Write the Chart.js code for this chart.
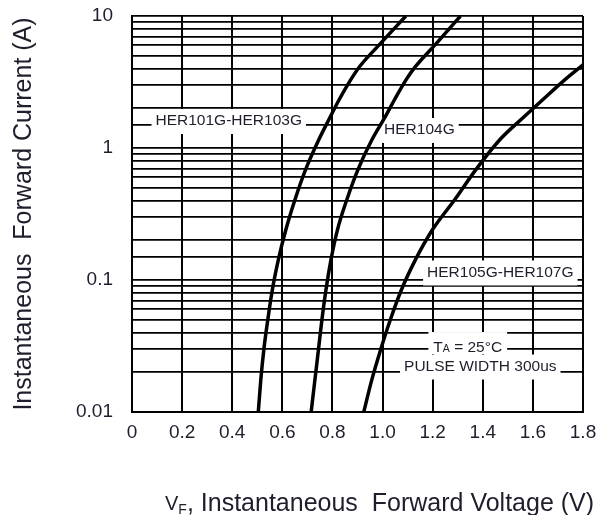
<!DOCTYPE html>
<html><head><meta charset="utf-8">
<script src="https://cdn.jsdelivr.net/npm/chart.js@4.4.1/dist/chart.umd.min.js"></script>
<style>html,body{margin:0;padding:0;background:#fff}#wrap{width:614px;height:515px}</style>
</head><body><div id="wrap"><canvas id="c" width="614" height="515"></canvas></div>
<script>
// ---- data ----
const xTickValues = [0, 0.2, 0.4, 0.6, 0.8, 1.0, 1.2, 1.4, 1.6, 1.8];
const xTickLabels = ['0', '0.2', '0.4', '0.6', '0.8', '1.0', '1.2', '1.4', '1.6', '1.8'];
const yMajorTicks = [0.01, 0.1, 1, 10];
const yTickLabels = ['0.01', '0.1', '1', '10'];

const seriesNames = ['HER101G-HER103G', 'HER104G', 'HER105G-HER107G'];
const her101V = [0.504, 0.514, 0.526, 0.542, 0.560, 0.584, 0.614, 0.650, 0.692, 0.745, 0.792, 0.826, 0.872, 0.908, 0.992, 1.093];
const her101I = [0.01, 0.0175, 0.0295, 0.05, 0.084, 0.142, 0.24, 0.404, 0.68, 1.15, 1.73, 2.31, 3.27, 4.13, 6.2, 10];
const her104V = [0.715, 0.730, 0.744, 0.758, 0.774, 0.794, 0.820, 0.857, 0.901, 0.957, 1.011, 1.047, 1.093, 1.131, 1.215, 1.311];
const her104I = [0.01, 0.0175, 0.0295, 0.05, 0.084, 0.142, 0.24, 0.404, 0.68, 1.15, 1.73, 2.31, 3.27, 4.13, 6.2, 10];
const her105V = [0.925, 0.957, 0.992, 1.031, 1.075, 1.131, 1.199, 1.287, 1.371, 1.467, 1.566, 1.638, 1.726, 1.800];
const her105I = [0.01, 0.0175, 0.0295, 0.05, 0.084, 0.142, 0.24, 0.404, 0.68, 1.15, 1.73, 2.31, 3.27, 4.26];

// label anchors in data units (V, A)
const seriesLabelV = [0.386, 1.147, 1.470];
const seriesLabelI = [1.60, 1.37, 0.114];
const noteTexts = ['PULSE WIDTH 300us'];
const noteV = [1.39];
const noteI = [0.0221];
const tempNote = { main: 'T', sub: 'A', rest: ' = 25°C', v: 1.34, i: 0.0316 };

const yTitle = 'Instantaneous  Forward Current (A)';
const xTitleParts = { v: 'V', sub: 'F', rest: ', Instantaneous  Forward Voltage (V)' };

// ---- build ----
function pts(xs, ys) { return xs.map((x, k) => ({ x: x, y: ys[k] })); }
const FONT = '"Liberation Sans", Arial, sans-serif';
const TXT = '#1e1e2c';

const annotPlugin = {
  id: 'annot',
  beforeDatasetsDraw(chart) {
    const ctx = chart.ctx, xs = chart.scales.x, ys = chart.scales.y;
    ctx.save();
    ctx.textBaseline = 'middle';
    ctx.textAlign = 'left';
    function box(cx, cy, w) {
      ctx.fillStyle = '#fff';
      ctx.fillRect(cx - w / 2 - 4, cy - 12, w + 8, 25);
    }
    ctx.font = '15.5px ' + FONT;
    seriesNames.forEach((t, k) => {
      const cx = xs.getPixelForValue(seriesLabelV[k]);
      const cy = ys.getPixelForValue(seriesLabelI[k]);
      const w = ctx.measureText(t).width;
      box(cx, cy, w);
      ctx.fillStyle = TXT;
      ctx.fillText(t, cx - w / 2, cy);
    });
    noteTexts.forEach((t, k) => {
      const cx = xs.getPixelForValue(noteV[k]);
      const cy = ys.getPixelForValue(noteI[k]);
      const w = ctx.measureText(t).width;
      box(cx, cy, w);
      ctx.fillStyle = TXT;
      ctx.fillText(t, cx - w / 2, cy);
    });
    {
      const cx = xs.getPixelForValue(tempNote.v);
      const cy = ys.getPixelForValue(tempNote.i);
      ctx.font = '15.5px ' + FONT;
      const w1 = ctx.measureText(tempNote.main).width;
      const w3 = ctx.measureText(tempNote.rest).width;
      ctx.font = '10.5px ' + FONT;
      const w2 = ctx.measureText(tempNote.sub).width;
      const w = w1 + w2 + w3;
      ctx.fillStyle = '#fff';
      ctx.fillRect(cx - w / 2 - 5, cy - 14, w + 10, 22);
      ctx.fillStyle = TXT;
      const x0 = cx - w / 2;
      ctx.textBaseline = 'alphabetic';
      const base = cy + 5.5;
      ctx.font = '15.5px ' + FONT;
      ctx.fillText(tempNote.main, x0, base);
      ctx.font = '10.5px ' + FONT;
      ctx.fillText(tempNote.sub, x0 + w1, base);
      ctx.font = '15.5px ' + FONT;
      ctx.fillText(tempNote.rest, x0 + w1 + w2, base);
    }
    ctx.restore();
  },
  afterDraw(chart) {
    const ctx = chart.ctx;
    ctx.save();
    ctx.fillStyle = TXT;
    ctx.textBaseline = 'alphabetic';
    ctx.textAlign = 'left';
    let x = 165;
    const base = 511;
    ctx.font = '20px ' + FONT;
    ctx.fillText(xTitleParts.v, x, base - 1);
    x += ctx.measureText(xTitleParts.v).width;
    ctx.font = '14px ' + FONT;
    ctx.fillText(xTitleParts.sub, x, base + 3);
    x += ctx.measureText(xTitleParts.sub).width;
    ctx.font = '25px ' + FONT;
    ctx.fillText(xTitleParts.rest, x, base);
    ctx.restore();
  }
};

const lineStyle = {
  showLine: true, borderColor: '#000', borderWidth: 3.5, pointRadius: 0,
  cubicInterpolationMode: 'monotone', fill: false
};

new Chart(document.getElementById('c'), {
  type: 'scatter',
  data: {
    datasets: [
      Object.assign({ label: seriesNames[0], data: pts(her101V, her101I) }, lineStyle),
      Object.assign({ label: seriesNames[1], data: pts(her104V, her104I) }, lineStyle),
      Object.assign({ label: seriesNames[2], data: pts(her105V, her105I) }, lineStyle)
    ]
  },
  options: {
    responsive: false,
    animation: false,
    devicePixelRatio: 1,
    layout: { padding: { left: 0, top: 16, right: 31, bottom: 0 } },
    plugins: { legend: { display: false }, tooltip: { enabled: false } },
    scales: {
      x: {
        type: 'linear', min: 0, max: 1.8,
        afterBuildTicks(scale) { scale.ticks = xTickValues.map(v => ({ value: v })); },
        afterFit(scale) { scale.height = 103; },
        ticks: {
          autoSkip: false, maxRotation: 0, padding: 9,
          color: '#1e1e2c', font: { family: FONT, size: 19 },
          callback: (v, i) => xTickLabels[i]
        },
        grid: { color: '#000', lineWidth: 2, drawTicks: false },
        border: { color: '#000', width: 2 }
      },
      y: {
        type: 'logarithmic', min: 0.01, max: 10,
        afterFit(scale) { scale.width = 132; },
        ticks: {
          autoSkip: false, padding: 0,
          color: '#1e1e2c', font: { family: FONT, size: 19 },
          callback: function (v) {
            const i = yMajorTicks.findIndex(m => Math.abs(m - v) / m < 1e-6);
            return i >= 0 ? yTickLabels[i] : '';
          }
        },
        grid: { color: '#000', lineWidth: 1.8, drawTicks: true, tickLength: 19, tickColor: 'rgba(0,0,0,0)' },
        border: { color: '#000', width: 2 },
        title: {
          display: true, text: yTitle, color: TXT,
          font: { family: FONT, size: 25 }, padding: { top: 9, bottom: 0 }
        }
      }
    }
  },
  plugins: [annotPlugin]
});
</script>
</body></html>
